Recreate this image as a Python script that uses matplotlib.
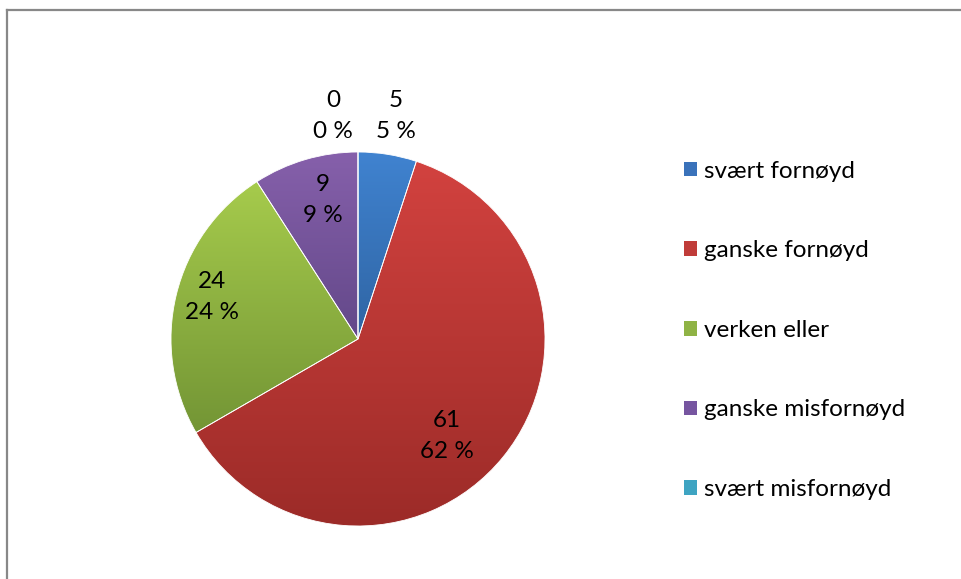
import numpy as np
import matplotlib
matplotlib.use("Agg")
import matplotlib.pyplot as plt
from matplotlib.patches import Patch
from matplotlib.colors import to_rgb
from matplotlib.lines import Line2D

# data
kategorier = ["svært fornøyd", "ganske fornøyd", "verken eller",
              "ganske misfornøyd", "svært misfornøyd"]
antall = [5, 61, 24, 9, 0]
prosent = [5, 62, 24, 9, 0]

# gradient ends (top, bottom) per slice, like the old office look
farger_topp = ["#4083d0", "#d2423f", "#a6cb4c", "#8660ab", "#4fb6d4"]
farger_bunn = ["#2f64a3", "#9c2b28", "#739535", "#634889", "#2f8aa6"]
farger_legend = ["#3a72ba", "#c03c39", "#8fb345", "#7655a0", "#3ea4c2"]

# label positions in pixels (x, y from top)
etikett_pos = [(396, 116), (447, 436), (212, 297), (323, 200), (333, 116)]

W, H = 962, 579
fs = 17.5
fig = plt.figure(figsize=(W / 100, H / 100), dpi=100)
ax = fig.add_axes([0, 0, 1, 1])
ax.set_axis_off()

senter = (358, H - 339)
wedges, _ = ax.pie(antall, startangle=90, counterclock=False,
                   center=senter, radius=187,
                   wedgeprops=dict(facecolor="none", edgecolor="none", linewidth=0))

for i, w in enumerate(wedges):
    bb = w.get_path().get_extents()
    if bb.width <= 0 or bb.height <= 0:
        continue
    t = np.linspace(0, 1, 256)[:, None]
    c0 = np.array(to_rgb(farger_topp[i]))
    c1 = np.array(to_rgb(farger_bunn[i]))
    grad = (c0 * (1 - t) + c1 * t)[:, None, :]
    im = ax.imshow(grad, extent=[bb.x0, bb.x1, bb.y0, bb.y1], origin="upper",
                   aspect="auto", interpolation="bilinear", zorder=1)
    im.set_clip_path(w)

# thin white separators
for w in wedges:
    w.set_edgecolor("white")
    w.set_linewidth(0.6)
    w.set_zorder(2)

ax.set_xlim(0, W)
ax.set_ylim(0, H)
ax.set_aspect("auto")

for i in range(len(antall)):
    x, y = etikett_pos[i]
    ax.text(x, H - y, f"{antall[i]}\n{prosent[i]} %", ha="center", va="center",
            fontsize=fs, family="Lato", linespacing=1.6, color="black", zorder=5)

handles = [Patch(facecolor=farger_legend[i], edgecolor="none") for i in range(len(kategorier))]
leg = ax.legend(handles, kategorier, loc="upper left", bbox_to_anchor=(674 / W, 1 - 151 / H),
                frameon=False, prop=dict(family="Lato", size=fs),
                handlelength=0.55, handleheight=0.55, handletextpad=0.3,
                labelspacing=2.41, borderaxespad=0)

# frame lines top and left
fig.add_artist(Line2D([7 / W, 1], [1 - 9.5 / H, 1 - 9.5 / H], color="#888888", lw=1.6,
                      transform=fig.transFigure))
fig.add_artist(Line2D([7.5 / W, 7.5 / W], [0, 1 - 9.5 / H], color="#888888", lw=1.6,
                      transform=fig.transFigure))

fig.savefig("out.png", dpi=100)
